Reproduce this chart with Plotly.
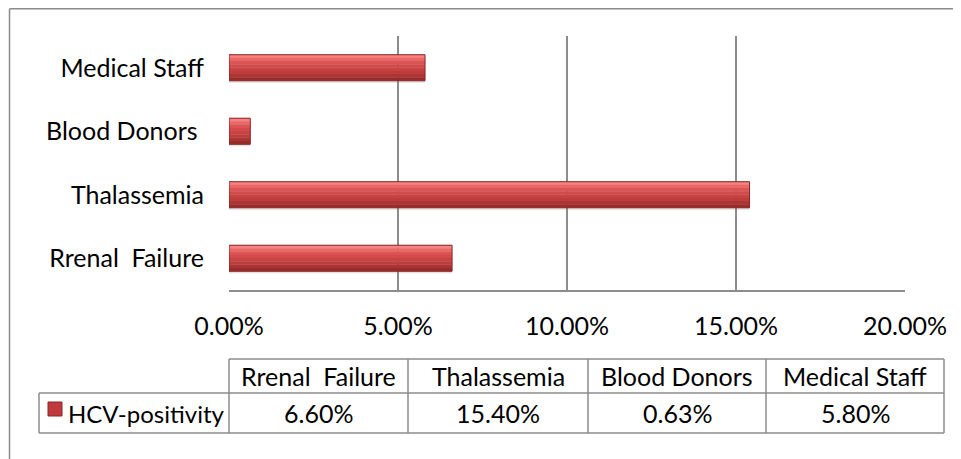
import plotly.graph_objects as go

# ---- data ----
categories = ["Rrenal  Failure", "Thalassemia", "Blood Donors", "Medical Staff"]
axis_labels = ["Rrenal  Failure", "Thalassemia", "Blood Donors ", "Medical Staff"]
values = [0.066, 0.154, 0.0063, 0.058]
value_labels = ["6.60%", "15.40%", "0.63%", "5.80%"]
series_name = "HCV-positivity"
tick_vals = [0, 0.05, 0.10, 0.15, 0.20]
tick_text = ["0.00%", "5.00%", "10.00%", "15.00%", "20.00%"]

OFF = 8  # page body margin of the browser
W, H = 961 - OFF, 459 - OFF
FONT = "Lato, Calibri, Carlito, sans-serif"
FS = 25
GRID = "#8c8c8c"


def px(x):
    return (x - OFF) / W


def py(y):
    return 1 - (y - OFF) / H


fig = go.Figure()

# shadow under each bar
fig.add_trace(go.Bar(
    y=axis_labels, x=values, orientation="h", width=0.43, offset=-0.235,
    marker=dict(color="rgba(120,120,120,0.22)", line=dict(width=0)),
    hoverinfo="skip", showlegend=False))

# gradient stripes (top light -> bottom dark)
stripes = ["#F58383", "#E96767", "#DC5454", "#D24A4A", "#C84343", "#BD3C3C", "#AE3434", "#9A2B2B"]
bar_w = 0.41
sw = bar_w / len(stripes)
for i, c in enumerate(stripes):
    fig.add_trace(go.Bar(
        y=axis_labels, x=values, orientation="h",
        width=sw + 0.004, offset=bar_w / 2 - (i + 1) * sw,
        marker=dict(color=c, line=dict(width=0)),
        hoverinfo="skip", showlegend=False))

# thin dark outline
fig.add_trace(go.Bar(
    y=axis_labels, x=values, orientation="h", width=bar_w, offset=-bar_w / 2,
    marker=dict(color="rgba(0,0,0,0)", line=dict(color="#8A2626", width=1)),
    name=series_name, showlegend=False))

fig.update_layout(
    width=W, height=H, barmode="overlay", showlegend=False,
    margin=dict(l=0, r=0, t=0, b=0, pad=0),
    paper_bgcolor="white", plot_bgcolor="white",
    font=dict(family=FONT, size=FS, color="#000000"),
    xaxis=dict(domain=[px(229), px(905)], range=[0, 0.20], automargin=False,
               tickvals=tick_vals, ticktext=tick_text,
               showgrid=True, gridcolor=GRID, gridwidth=1.5,
               showline=True, linecolor=GRID, linewidth=1.5,
               zeroline=False, ticks="", ticklabelstandoff=13,
               tickfont=dict(size=FS, family=FONT), fixedrange=True),
    yaxis=dict(domain=[py(290), py(36)], type="category", automargin=False,
               categoryorder="array", categoryarray=axis_labels,
               range=[-0.5, 3.5],
               showgrid=False, showline=False, zeroline=False,
               ticks="", ticklabelstandoff=24,
               tickfont=dict(size=FS, family=FONT), fixedrange=True),
)

shapes = []
line = dict(color=GRID, width=1.5)
# outer chart border (left and top visible)
shapes.append(dict(type="line", xref="paper", yref="paper",
                   x0=px(9.5), x1=px(9.5), y0=py(8.8), y1=py(470), line=line))
shapes.append(dict(type="line", xref="paper", yref="paper",
                   x0=px(9.5), x1=px(975), y0=py(8.8), y1=py(8.8), line=line))

# data table
col_edges = [229, 408, 588, 766, 944]
y_top, y_mid, y_bot = 359, 393, 433
x_lab = 39
shapes.append(dict(type="line", xref="paper", yref="paper",
                   x0=px(229), x1=px(944), y0=py(y_top), y1=py(y_top), line=line))
for yy in (y_mid, y_bot):
    shapes.append(dict(type="line", xref="paper", yref="paper",
                       x0=px(x_lab), x1=px(944), y0=py(yy), y1=py(yy), line=line))
shapes.append(dict(type="line", xref="paper", yref="paper",
                   x0=px(x_lab), x1=px(x_lab), y0=py(y_mid), y1=py(y_bot), line=line))
for xe in col_edges:
    shapes.append(dict(type="line", xref="paper", yref="paper",
                       x0=px(xe), x1=px(xe), y0=py(y_top), y1=py(y_bot), line=line))
# legend key
shapes.append(dict(type="rect", xref="paper", yref="paper",
                   x0=px(48), x1=px(62), y0=py(416), y1=py(402),
                   fillcolor="#C0393B", line=dict(color="#8A2626", width=1)))
fig.update_layout(shapes=shapes)

annotations = []
for i, cat in enumerate(categories):
    cx = (col_edges[i] + col_edges[i + 1]) / 2
    annotations.append(dict(xref="paper", yref="paper", x=px(cx), y=py((y_top + y_mid) / 2),
                            text=cat, showarrow=False, xanchor="center", yanchor="middle",
                            font=dict(size=FS, family=FONT)))
    annotations.append(dict(xref="paper", yref="paper", x=px(cx), y=py((y_mid + y_bot) / 2),
                            text=value_labels[i], showarrow=False, xanchor="center", yanchor="middle",
                            font=dict(size=FS, family=FONT)))
annotations.append(dict(xref="paper", yref="paper", x=px(66), y=py((y_mid + y_bot) / 2),
                        text=series_name, showarrow=False, xanchor="left", yanchor="middle",
                        font=dict(size=24, family=FONT)))
fig.update_layout(annotations=annotations)

fig.write_html("out.html")
